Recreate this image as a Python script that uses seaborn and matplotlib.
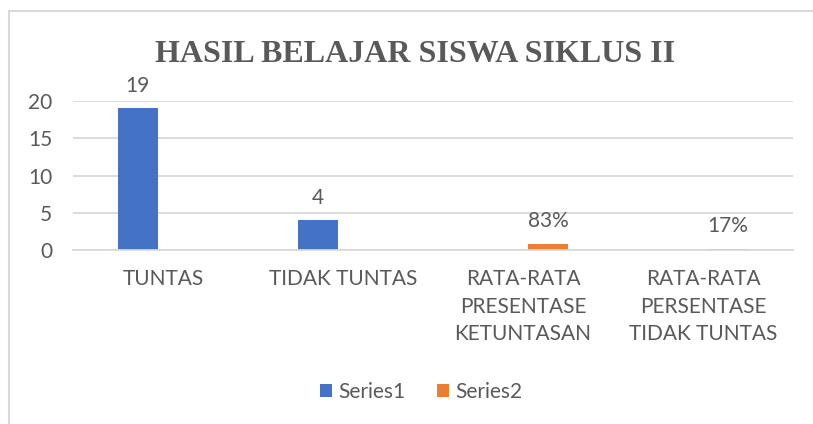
import pandas as pd
import seaborn as sns
import matplotlib.pyplot as plt
from matplotlib.patches import Rectangle

# Chart data
categories = ['TUNTAS', 'TIDAK TUNTAS',
              'RATA-RATA\nPRESENTASE\nKETUNTASAN',
              'RATA-RATA\nPERSENTASE\nTIDAK TUNTAS']
series_names = ['Series1', 'Series2']
series1 = [19, 4, 0, 0]          # no Series1 value on the two averages
series2 = [0, 0, 0.83, 0.17]     # no Series2 value on the two counts
series1_labels = ['19', '4', '', '']
series2_labels = ['', '', '83%', '17%']
y_ticks = [0, 5, 10, 15, 20]

# Long-form table for seaborn
df = pd.DataFrame({
    'category': categories * 2,
    'series': ['Series1'] * 4 + ['Series2'] * 4,
    'value': series1 + series2,
})

sns.set_theme(style='white')
plt.rcParams['font.family'] = ['Lato', 'DejaVu Sans']
text_color = '#595959'
grid_color = '#D9D9D9'

fig = plt.figure(figsize=(8.13, 4.24), dpi=100)
ax = fig.add_axes([73 / 813, 1 - 250 / 424, 720 / 813, 149 / 424])

sns.barplot(data=df, x='category', y='value', hue='series',
            order=categories, hue_order=series_names,
            palette=['#4472C4', '#ED7D31'], saturation=1,
            width=0.56, gap=0.21, linewidth=0, ax=ax, legend=True)

ax.set_ylim(0, 20)
ax.set_yticks(y_ticks)
ax.set_xlim(-0.5, len(categories) - 0.5)
ax.yaxis.grid(True, color=grid_color, linewidth=1.3)
ax.set_axisbelow(True)
for side in ['left', 'right', 'top']:
    ax.spines[side].set_visible(False)
ax.spines['bottom'].set_color(grid_color)
ax.spines['bottom'].set_linewidth(1.3)
ax.tick_params(axis='both', length=0, labelsize=15, colors=text_color)
ax.tick_params(axis='x', pad=14)
ax.tick_params(axis='y', pad=15)
ax.set_xlabel('')
ax.set_ylabel('')
for lab in ax.get_xticklabels():
    lab.set_linespacing(1.45)
    lab.set_verticalalignment('top')

for cont, labels in zip(ax.containers, [series1_labels, series2_labels]):
    ax.bar_label(cont, labels=labels, padding=9, fontsize=15,
                 color=text_color, clip_on=False)

handles, names = ax.get_legend_handles_labels()
ax.legend(handles, names, loc='center', bbox_to_anchor=(421 / 813, 1 - 392 / 424),
          bbox_transform=fig.transFigure, ncol=2, frameon=False,
          fontsize=15, labelcolor=text_color, handlelength=0.6,
          handleheight=0.6, handletextpad=0.3, columnspacing=1.5)

fig.text(415 / 813, 1 - 54 / 424, 'HASIL BELAJAR SISWA SIKLUS II',
         ha='center', va='center', fontsize=23, fontweight='bold',
         family='Liberation Serif', color=text_color)

# chart border (runs off the right and bottom edges)
fig.add_artist(Rectangle((9 / 813, -0.05), 1.0, 1 - 11 / 424 + 0.05,
                         transform=fig.transFigure, fill=False,
                         edgecolor='#D9D9D9', linewidth=1.5))

fig.savefig('out.png', dpi=100, facecolor='white')
